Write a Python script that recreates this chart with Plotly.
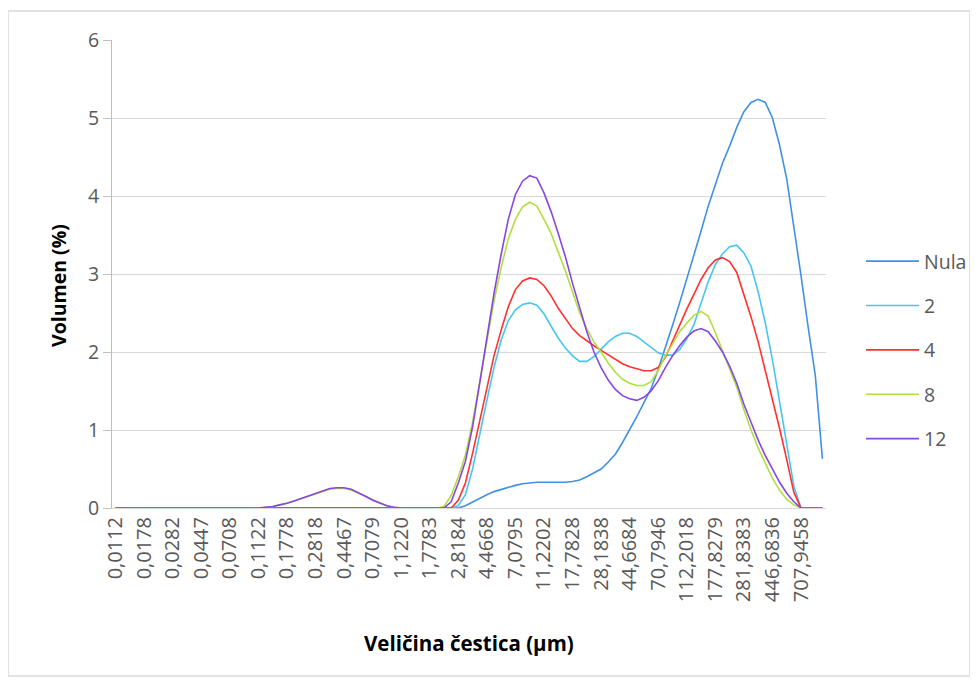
import plotly.graph_objects as go

# Particle sizes (µm), 100 log-spaced classes
sizes = [
    0.0112, 0.0126, 0.0141, 0.0158, 0.0178, 0.0200, 0.0224, 0.0251, 0.0282, 0.0316,
    0.0355, 0.0398, 0.0447, 0.0501, 0.0562, 0.0631, 0.0708, 0.0794, 0.0891, 0.1000,
    0.1122, 0.1259, 0.1413, 0.1585, 0.1778, 0.1995, 0.2239, 0.2512, 0.2818, 0.3162,
    0.3548, 0.3981, 0.4467, 0.5012, 0.5623, 0.6310, 0.7079, 0.7943, 0.8913, 1.0000,
    1.1220, 1.2589, 1.4125, 1.5849, 1.7783, 1.9953, 2.2387, 2.5119, 2.8184, 3.1623,
    3.5481, 3.9811, 4.4668, 5.0119, 5.6234, 6.3096, 7.0795, 7.9433, 8.9125, 10.0000,
    11.2202, 12.5893, 14.1254, 15.8489, 17.7828, 19.9526, 22.3872, 25.1189, 28.1838, 31.6228,
    35.4813, 39.8107, 44.6684, 50.1187, 56.2341, 63.0957, 70.7946, 79.4328, 89.1251, 100.0000,
    112.2018, 125.8925, 141.2538, 158.4893, 177.8279, 199.5262, 223.8721, 251.1886, 281.8383, 316.2278,
    354.8134, 398.1072, 446.6836, 501.1872, 562.3413, 630.9573, 707.9458, 794.3282, 891.2509, 1000.0000,
]
categories = [f"{v:.4f}".replace(".", ",") for v in sizes]
tick_labels = categories[::4]

nula = [
    0, 0, 0, 0, 0, 0, 0, 0, 0, 0,
    0, 0, 0, 0, 0, 0, 0, 0, 0, 0,
    0, 0, 0, 0, 0, 0, 0, 0, 0, 0,
    0, 0, 0, 0, 0, 0, 0, 0, 0, 0,
    0, 0, 0, 0, 0, 0, 0, 0, 0, 0.03,
    0.08, 0.13, 0.17, 0.21, 0.24, 0.27, 0.29, 0.31, 0.32, 0.33,
    0.33, 0.33, 0.33, 0.33, 0.34, 0.36, 0.40, 0.45, 0.50, 0.59,
    0.69, 0.84, 1.00, 1.17, 1.35, 1.53, 1.78, 2.05, 2.34, 2.63,
    2.93, 3.24, 3.55, 3.87, 4.14, 4.42, 4.64, 4.88, 5.08, 5.20,
    5.24, 5.20, 5.00, 4.65, 4.22, 3.62, 2.98, 2.32, 1.70, 0.63,
]

s2 = [
    0, 0, 0, 0, 0, 0, 0, 0, 0, 0,
    0, 0, 0, 0, 0, 0, 0, 0, 0, 0,
    0, 0, 0, 0, 0, 0, 0, 0, 0, 0,
    0, 0, 0, 0, 0, 0, 0, 0, 0, 0,
    0, 0, 0, 0, 0, 0, 0, 0, 0.03, 0.17,
    0.50, 0.95, 1.38, 1.80, 2.15, 2.40, 2.54, 2.61, 2.63, 2.60,
    2.49, 2.33, 2.18, 2.05, 1.95, 1.88, 1.88, 1.94, 2.03, 2.13,
    2.20, 2.24, 2.24, 2.20, 2.13, 2.06, 1.99, 1.96, 1.96, 2.03,
    2.17, 2.35, 2.64, 2.90, 3.12, 3.26, 3.35, 3.37, 3.27, 3.10,
    2.77, 2.37, 1.90, 1.36, 0.80, 0.28, 0, 0, 0, 0,
]

s4 = [
    0, 0, 0, 0, 0, 0, 0, 0, 0, 0,
    0, 0, 0, 0, 0, 0, 0, 0, 0, 0,
    0, 0, 0, 0, 0, 0, 0, 0, 0, 0,
    0, 0, 0, 0, 0, 0, 0, 0, 0, 0,
    0, 0, 0, 0, 0, 0, 0, 0, 0.10, 0.32,
    0.70, 1.12, 1.55, 1.95, 2.28, 2.58, 2.80, 2.91, 2.95, 2.93,
    2.85, 2.72, 2.56, 2.43, 2.30, 2.21, 2.14, 2.08, 2.02, 1.96,
    1.90, 1.85, 1.81, 1.78, 1.76, 1.76, 1.80, 1.93, 2.14, 2.35,
    2.55, 2.74, 2.93, 3.08, 3.18, 3.21, 3.16, 3.02, 2.74, 2.45,
    2.13, 1.77, 1.40, 1.02, 0.62, 0.20, 0, 0, 0, 0,
]

s8 = [
    0, 0, 0, 0, 0, 0, 0, 0, 0, 0,
    0, 0, 0, 0, 0, 0, 0, 0, 0, 0,
    0, 0.01, 0.02, 0.04, 0.06, 0.09, 0.12, 0.15, 0.18, 0.21,
    0.24, 0.25, 0.25, 0.23, 0.19, 0.15, 0.10, 0.06, 0.03, 0.01,
    0, 0, 0, 0, 0, 0, 0.02, 0.16, 0.40, 0.68,
    1.10, 1.60, 2.15, 2.65, 3.08, 3.45, 3.70, 3.86, 3.92, 3.87,
    3.70, 3.52, 3.28, 3.04, 2.77, 2.50, 2.30, 2.13, 2.00, 1.86,
    1.74, 1.65, 1.60, 1.57, 1.57, 1.62, 1.76, 1.95, 2.10, 2.26,
    2.37, 2.47, 2.52, 2.46, 2.25, 2.02, 1.80, 1.55, 1.26, 1.00,
    0.77, 0.57, 0.38, 0.23, 0.11, 0.04, 0, 0, 0, 0,
]

s12 = [
    0, 0, 0, 0, 0, 0, 0, 0, 0, 0,
    0, 0, 0, 0, 0, 0, 0, 0, 0, 0,
    0, 0.01, 0.02, 0.04, 0.06, 0.09, 0.12, 0.15, 0.18, 0.22,
    0.25, 0.26, 0.26, 0.24, 0.20, 0.15, 0.10, 0.06, 0.03, 0.01,
    0, 0, 0, 0, 0, 0, 0, 0.08, 0.32, 0.60,
    1.04, 1.60, 2.20, 2.75, 3.25, 3.70, 4.02, 4.19, 4.26, 4.23,
    4.04, 3.80, 3.52, 3.22, 2.88, 2.56, 2.26, 2.00, 1.80, 1.64,
    1.52, 1.44, 1.40, 1.38, 1.42, 1.50, 1.63, 1.80, 1.95, 2.08,
    2.19, 2.27, 2.30, 2.26, 2.14, 2.00, 1.82, 1.60, 1.33, 1.10,
    0.87, 0.67, 0.49, 0.33, 0.19, 0.08, 0, 0, 0, 0,
]

series = [
    ("Nula", nula, "#4290e6"),
    ("2", s2, "#45c6f2"),
    ("4", s4, "#ff3030"),
    ("8", s8, "#b0e040"),
    ("12", s12, "#8a45e0"),
]

FONT = "Open Sans, Noto Sans, Liberation Sans, sans-serif"

# page body has an 8px default margin, so the figure is drawn 8px in
W, H = 970, 676

fig = go.Figure()
for name, vals, color in series:
    fig.add_trace(go.Scatter(
        x=categories, y=vals, mode="lines", name=name,
        legendgroup=name,
        line=dict(color=color, width=1.6),
    ))

fig.update_layout(
    width=W, height=H,
    margin=dict(l=104, r=152, t=32, b=176),
    paper_bgcolor="white", plot_bgcolor="white",
    font=dict(family=FONT, color="#595959"),
    showlegend=True,
    legend=dict(
        xref="container", yref="container",
        x=853 / W, y=1 - 234 / H, xanchor="left", yanchor="top",
        font=dict(size=19.5, color="#595959", family=FONT),
        itemwidth=53, tracegroupgap=16,
        bgcolor="rgba(0,0,0,0)",
    ),
    xaxis=dict(
        type="category", categoryorder="array", categoryarray=categories,
        range=[-0.5, len(categories) - 0.5],
        tickmode="array", tickvals=tick_labels, ticktext=tick_labels,
        tickangle=-90, ticks="", showgrid=False,
        showline=True, linecolor="#d9d9d9", linewidth=1,
        tickfont=dict(size=20, color="#595959", family=FONT),
        zeroline=False,
    ),
    yaxis=dict(
        range=[0, 6], tickmode="linear", tick0=0, dtick=1,
        showgrid=True, gridcolor="#d9d9d9", gridwidth=1,
        showline=True, linecolor="#bfbfbf", linewidth=1,
        ticks="outside", ticklen=8, tickcolor="#bfbfbf",
        tickfont=dict(size=19.5, color="#595959", family=FONT),
        zeroline=False,
    ),
    annotations=[
        dict(text="<b>Volumen (%)</b>", xref="paper", yref="paper",
             x=(58 - 112) / 714, y=(508 - 286) / 468, textangle=-90,
             showarrow=False, xanchor="center", yanchor="middle",
             font=dict(size=19.5, color="#000000", family=FONT)),
        dict(text="<b>Veličina čestica (µm)</b>", xref="paper", yref="paper",
             x=0.5, y=(508 - 643) / 468,
             showarrow=False, xanchor="center", yanchor="middle",
             font=dict(size=20.5, color="#000000", family=FONT)),
    ],
    shapes=[
        dict(type="rect", xref="paper", yref="paper",
             x0=(8 - 112) / 714, x1=(970 - 112) / 714,
             y0=(508 - 676) / 468, y1=(508 - 11) / 468,
             line=dict(color="#d9d9d9", width=1.5), fillcolor="rgba(0,0,0,0)",
             layer="below"),
    ],
)

fig.write_html("out.html")
